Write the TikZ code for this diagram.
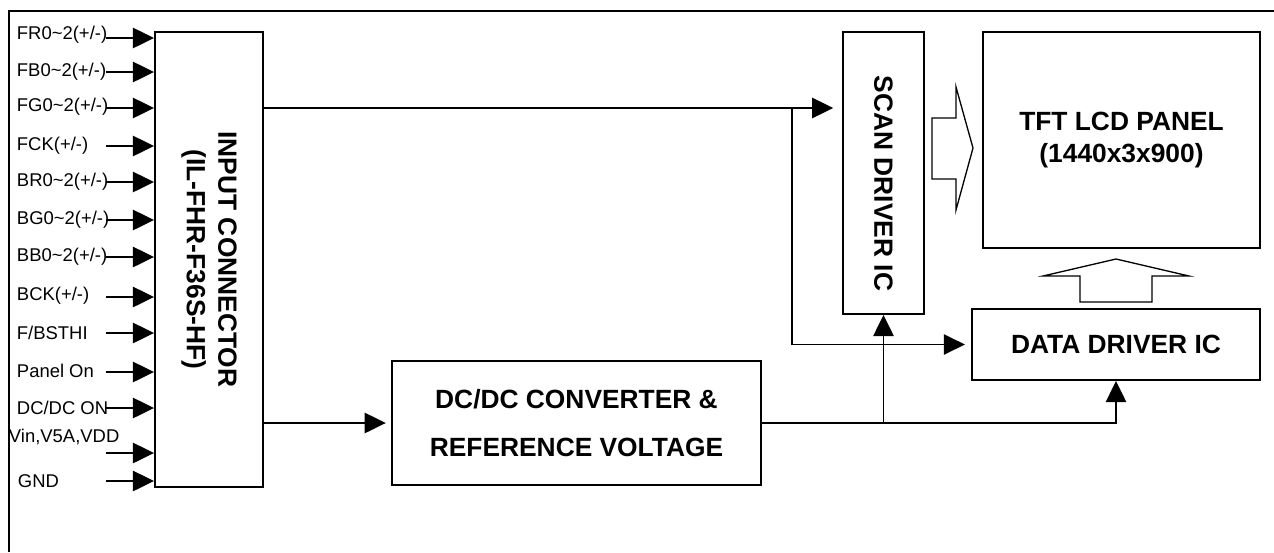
\documentclass[tikz,border=0pt]{standalone}
\usepackage{fontspec}
\setmainfont{Liberation Sans}
\usetikzlibrary{arrows.meta}

\begin{document}
\begin{tikzpicture}[
        x=0.02cm, y=-0.02cm,
        line width=1.1pt,
        box/.style={draw, inner sep=0pt, align=center,
                    font=\fontsize{15}{18}\selectfont\bfseries},
        sig/.style={anchor=west, inner sep=0pt, font=\fontsize{10.5}{12}\selectfont},
        arrow/.style={-{Triangle[length=12pt, width=11.5pt]}},
        hollow/.style={line width=0.75pt, line join=miter}
    ]
    \useasboundingbox (0,0) rectangle (1274,552);
    % outer frame (cut off at right and bottom)
    \draw (9,552) -- (9,11) -- (1274,11);

    \node[box, minimum width=2.16cm, minimum height=9.1cm] (inconn) at (209,259.5)
        {\rotatebox{-90}{\begin{tabular}{@{}c@{}}INPUT CONNECTOR\\(IL-FHR-F36S-HF)\end{tabular}}};
    \node[box, minimum width=1.62cm, minimum height=5.64cm] (scan) at (883.5,173)
        {\rotatebox{-90}{\hspace{12pt}SCAN DRIVER IC}};
    \node[box, minimum width=5.54cm, minimum height=4.32cm] (panel) at (1121.5,140)
        {TFT LCD PANEL\\(1440x3x900)};
    \node[box, minimum width=5.76cm, minimum height=1.42cm] (data) at (1116,344.5)
        {DATA DRIVER IC};
    \node[box, minimum width=7.38cm, minimum height=2.48cm] (dcdc) at (576.5,423)
        {DC/DC CONVERTER \&\\[9pt]REFERENCE VOLTAGE};

    % input signals
    \foreach \lbl/\lx/\ly/\ay [count=\i] in {
            {FR0\textasciitilde2(+/-)}/16/35/38,
            {FB0\textasciitilde2(+/-)}/16/72/72,
            {FG0\textasciitilde2(+/-)}/16/107/108,
            {FCK(+/-)}/16/146/146,
            {BR0\textasciitilde2(+/-)}/16/182/182,
            {BG0\textasciitilde2(+/-)}/16/220/220,
            {BB0\textasciitilde2(+/-)}/16/257/257,
            {BCK(+/-)}/16/296/297,
            {F/BSTHI}/16/333/333,
            {Panel On}/16/371/372,
            {DC/DC ON}/16/408/408,
            {Vin,V5A,VDD}/8/437/453,
            {GND}/17/481/481} {
        \node[sig] (sig\i) at (\lx,\ly) {\lbl};
        \coordinate (in\i) at (106,\ay);
        \draw[arrow] (in\i) -- (in\i -| inconn.west);
    }

    % connections
    \coordinate (br1) at (792,108);
    \coordinate (br2) at (scan.south |- dcdc.east);
    \draw[arrow, shorten >=5pt] (inconn.east |- br1) -- (scan.west |- br1);
    \draw[arrow, shorten >=3.5pt] (br1) |- (data.west);
    \draw[arrow, shorten >=3pt] (inconn.east |- dcdc.west) -- (dcdc.west);
    \draw[arrow] (dcdc.east) -| (data.south);
    \draw[arrow] (br2) -- (scan.south);

    % hollow arrows to the panel
    \draw[hollow] (932,118) -- (956,118) -- (956,87) -- (973,148) -- (956,210)
        -- (956,179) -- (932,179) -- cycle;
    \draw[hollow] (1080,302) -- (1080,276) -- (1043,276) -- (1116,259) -- (1189,276)
        -- (1152,276) -- (1152,302) -- cycle;
\end{tikzpicture}
\end{document}
